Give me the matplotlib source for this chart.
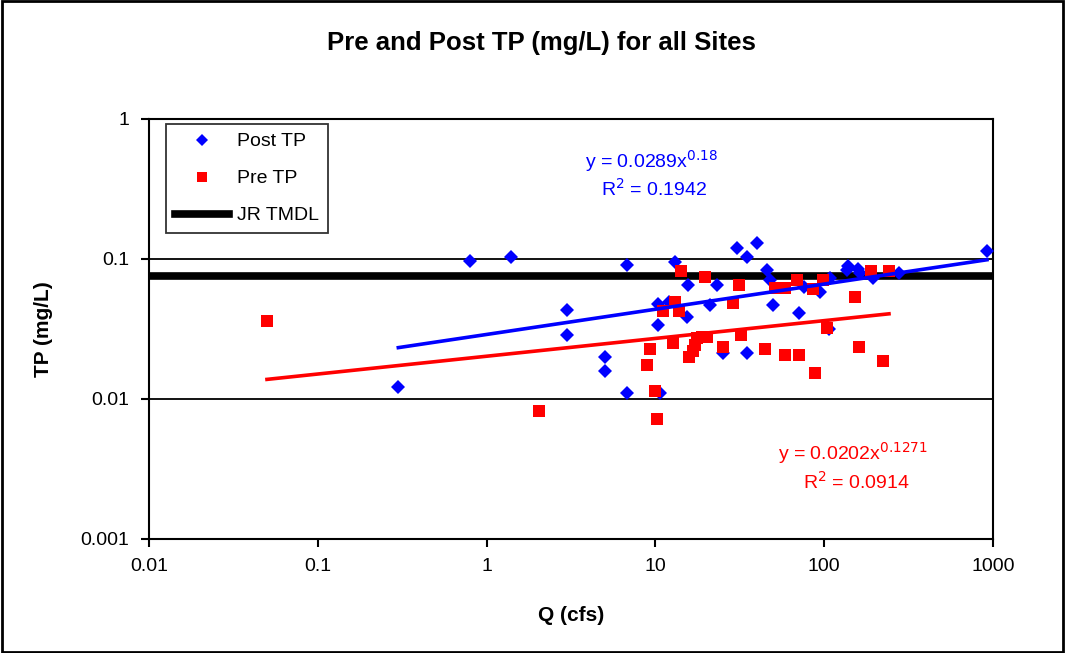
import numpy as np
import matplotlib
matplotlib.use('Agg')
import matplotlib.pyplot as plt
from matplotlib.patches import Rectangle
from matplotlib.ticker import FixedLocator, FixedFormatter, NullLocator

plt.rcParams['font.family'] = ['Liberation Sans', 'DejaVu Sans']

# Post TP (blue diamonds)
post_q = [0.3, 0.8, 1.4, 3.0, 3.0, 5.0, 5.0, 6.8, 6.8, 10.4, 10.4, 10.6, 12.0, 13.1,
          15.6, 15.4, 21.1, 23.2, 25.1, 30.4, 34.9, 40.0, 34.9, 45.8, 47.7, 49.7,
          70.9, 75.9, 94.5, 108, 107, 136, 139, 158, 163, 195, 277, 921]
post_tp = [0.0122, 0.097, 0.103, 0.043, 0.0286, 0.020, 0.0158, 0.091, 0.011, 0.048, 0.034,
           0.011, 0.049, 0.095, 0.065, 0.0385, 0.047, 0.065, 0.0213, 0.12, 0.103, 0.130,
           0.0213, 0.083, 0.071, 0.047, 0.041, 0.063, 0.058, 0.073, 0.0316, 0.083, 0.089,
           0.085, 0.080, 0.073, 0.079, 0.114]

# Pre TP (red squares)
pre_q = [0.05, 2.04, 9.3, 8.9, 9.95, 10.2, 11.1, 12.7, 13.1, 13.8, 14.2, 15.8, 16.8, 17.2,
         17.6, 19.0, 20.3, 19.7, 25.1, 28.8, 31.3, 32.1, 44.6, 51.1, 58.6, 58.6, 69.0,
         70.9, 85.9, 88.3, 98.4, 104, 152, 161, 189, 223, 242]
pre_tp = [0.036, 0.0082, 0.0228, 0.0175, 0.0114, 0.0072, 0.0425, 0.0251, 0.049, 0.0425,
          0.082, 0.020, 0.022, 0.0243, 0.0273, 0.0277, 0.0277, 0.0744, 0.0235, 0.0485,
          0.065, 0.0286, 0.0228, 0.062, 0.062, 0.0206, 0.0708, 0.0206, 0.0611, 0.0153,
          0.0708, 0.0321, 0.0535, 0.0235, 0.082, 0.0187, 0.082]

# power trendlines as printed on the chart
post_a, post_b = 0.0289, 0.18
pre_a, pre_b = 0.0202, 0.1271
tmdl = 0.075

fig = plt.figure(figsize=(10.65, 6.53), dpi=100)
ax = fig.add_axes([0.1399, 0.1746, 0.7925, 0.6432])

ax.set_xscale('log')
ax.set_yscale('log')
ax.set_xlim(0.01, 1000)
ax.set_ylim(0.001, 1)

# gridlines only at inner decades
for g in [0.01, 0.1]:
    ax.axhline(g, color='black', lw=1.3, zorder=1)

ax.axhline(tmdl, color='black', lw=5.5, zorder=2, label='JR TMDL')

xs = np.sort(post_q)
ax.plot(xs, post_a * xs ** post_b, color='#0000ff', lw=2.6, zorder=4)
xr = np.sort(pre_q)
ax.plot(xr, pre_a * xr ** pre_b, color='#ff0000', lw=2.6, zorder=4)

ax.plot(post_q, post_tp, 'D', color='#0000ff', ms=7.2, mew=0, zorder=3, label='Post TP')
ax.plot(pre_q, pre_tp, 's', color='#ff0000', ms=8.5, mew=0, zorder=3, label='Pre TP')

xt = [0.01, 0.1, 1, 10, 100, 1000]
ax.xaxis.set_major_locator(FixedLocator(xt))
ax.xaxis.set_major_formatter(FixedFormatter(['0.01', '0.1', '1', '10', '100', '1000']))
ax.xaxis.set_minor_locator(NullLocator())
yt = [0.001, 0.01, 0.1, 1]
ax.yaxis.set_major_locator(FixedLocator(yt))
ax.yaxis.set_major_formatter(FixedFormatter(['0.001', '0.01', '0.1', '1']))
ax.yaxis.set_minor_locator(NullLocator())
ax.tick_params(axis='both', direction='out', length=6, width=1.5, labelsize=14, pad=8)

for s in ax.spines.values():
    s.set_linewidth(1.5)

ax.set_xlabel('Q (cfs)', fontsize=15, fontweight='bold', labelpad=22)
ax.set_ylabel('TP (mg/L)', fontsize=15, fontweight='bold', labelpad=20)
fig.text(0.508, 0.934, 'Pre and Post TP (mg/L) for all Sites', ha='center', va='center',
         fontsize=18.5, fontweight='bold')

h, l = ax.get_legend_handles_labels()
order = [l.index('Post TP'), l.index('Pre TP'), l.index('JR TMDL')]
leg = ax.legend([h[i] for i in order], [l[i] for i in order], loc='upper left',
                bbox_to_anchor=(0.02, 0.988), borderaxespad=0, fontsize=14, frameon=True,
                fancybox=False, edgecolor='black', handlelength=2.8, handletextpad=0.4,
                borderpad=0.45, labelspacing=1.0, markerscale=0.9)
leg.get_frame().set_linewidth(1.3)

ax.text(0.517, 0.9, r'y = 0.0289x$^{0.18}$', transform=ax.transAxes, color='#0000ff',
        fontsize=14, ha='left', va='center')
ax.text(0.536, 0.833, r'R$^{2}$ = 0.1942', transform=ax.transAxes, color='#0000ff',
        fontsize=14, ha='left', va='center')
ax.text(0.745, 0.205, r'y = 0.0202x$^{0.1271}$', transform=ax.transAxes, color='#ff0000',
        fontsize=14, ha='left', va='center')
ax.text(0.775, 0.136, r'R$^{2}$ = 0.0914', transform=ax.transAxes, color='#ff0000',
        fontsize=14, ha='left', va='center')

fig.patches.append(Rectangle((0.002, 0.002), 0.996, 0.996, transform=fig.transFigure,
                             fill=False, edgecolor='black', lw=2))

fig.savefig('out.png', dpi=100)
